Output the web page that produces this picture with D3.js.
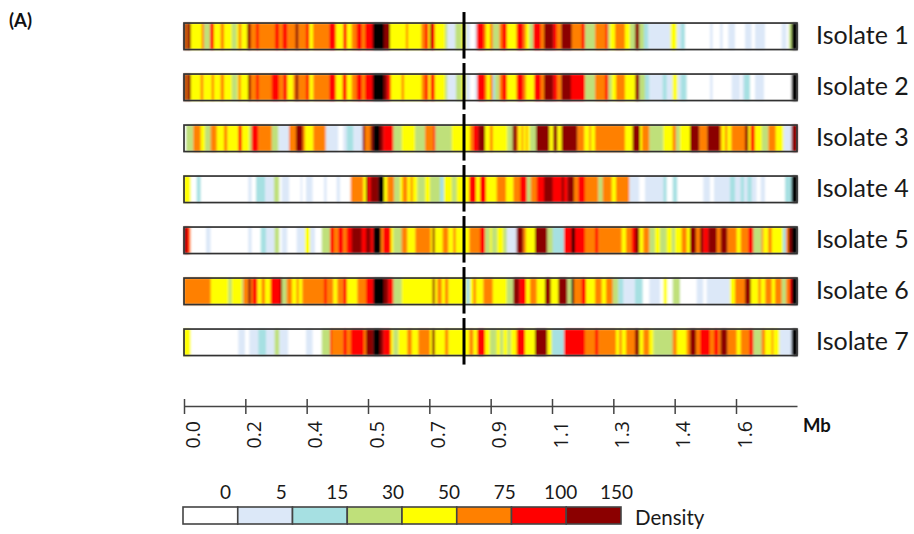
<!DOCTYPE html>
<html>
<head>
<meta charset="utf-8">
<script src="https://cdn.jsdelivr.net/npm/d3@7"></script>
<style>
  html, body { margin: 0; background: #fff; }
  svg { display: block; }
</style>
</head>
<body>
<svg id="chart" width="914" height="534"></svg>
<script>
// each isolate: [start in kb, density] runs, run lasts until next start
const isolate1 = [[0,150],[6,75],[10,150],[20,50],[53,75],[60,30],[78,100],[90,50],[110,75],[120,50],[143,30],[158,50],[164,75],[172,50],[190,150],[200,75],[216,100],[224,75],[273,100],[285,75],[296,100],[310,75],[335,150],[343,75],[366,100],[376,50],[387,75],[436,100],[455,50],[478,100],[488,50],[503,75],[518,100],[533,75],[543,100],[566,200],[600,150],[618,50],[666,75],[672,50],[712,75],[723,100],[733,50],[738,150],[744,100],[752,50],[783,30],[790,5],[814,30],[833,50],[845,5],[858,0],[873,5],[878,100],[900,75],[906,50],[918,75],[926,30],[946,75],[954,100],[968,50],[998,100],[1018,75],[1026,50],[1036,30],[1048,100],[1070,75],[1080,150],[1108,100],[1118,75],[1132,150],[1163,75],[1193,100],[1203,30],[1233,75],[1265,100],[1272,30],[1278,50],[1293,75],[1323,50],[1338,30],[1353,150],[1366,30],[1380,15],[1393,5],[1460,50],[1478,5],[1490,15],[1503,0],[1578,5],[1586,0],[1608,5],[1616,0],[1633,5],[1653,0],[1683,5],[1703,0],[1713,5],[1743,0],[1793,5],[1808,0],[1815,30],[1823,200]]
const isolate2 = [[0,150],[6,75],[10,150],[20,50],[50,75],[58,50],[83,75],[90,50],[110,75],[120,50],[143,30],[160,50],[163,75],[170,50],[192,150],[200,75],[216,100],[224,75],[263,100],[285,75],[298,100],[310,50],[328,75],[335,150],[343,75],[366,100],[376,50],[388,75],[436,100],[455,50],[476,100],[488,50],[503,75],[518,100],[533,75],[543,100],[566,200],[600,150],[610,100],[620,50],[653,75],[660,50],[713,75],[723,100],[733,50],[740,100],[752,50],[783,30],[790,5],[816,30],[833,50],[845,5],[858,0],[873,5],[880,100],[903,75],[908,50],[918,75],[926,15],[933,30],[946,75],[954,100],[968,50],[998,100],[1018,75],[1026,50],[1051,100],[1070,75],[1080,150],[1108,100],[1120,75],[1132,150],[1161,100],[1203,30],[1233,75],[1263,100],[1273,30],[1283,50],[1296,75],[1323,50],[1354,150],[1366,30],[1383,15],[1396,5],[1436,15],[1448,5],[1466,50],[1480,5],[1490,15],[1508,0],[1578,5],[1586,0],[1643,5],[1668,0],[1673,5],[1680,15],[1698,0],[1713,5],[1740,0],[1823,200]]
const isolate3 = [[0,0],[6,30],[28,75],[50,50],[63,30],[80,75],[98,50],[120,75],[130,50],[163,100],[173,50],[196,30],[203,100],[223,75],[263,30],[283,5],[315,75],[336,150],[356,75],[363,50],[388,75],[425,5],[463,0],[478,5],[488,15],[508,5],[536,150],[543,75],[560,150],[568,200],[588,150],[598,100],[628,30],[653,50],[693,30],[723,75],[748,100],[754,30],[803,50],[858,75],[868,100],[883,150],[903,50],[918,75],[926,50],[970,30],[986,150],[998,75],[1003,50],[1013,75],[1018,50],[1026,75],[1030,50],[1038,30],[1056,150],[1096,50],[1108,150],[1120,50],[1133,150],[1180,75],[1201,50],[1216,75],[1221,50],[1233,75],[1323,50],[1346,150],[1368,50],[1374,75],[1396,30],[1438,50],[1466,75],[1476,30],[1488,50],[1518,150],[1546,75],[1570,150],[1608,75],[1613,50],[1623,75],[1630,50],[1642,75],[1683,150],[1693,50],[1700,100],[1712,50],[1733,30],[1753,75],[1775,50],[1798,5],[1823,150]]
const isolate4 = [[0,50],[20,0],[38,15],[50,0],[193,5],[203,0],[216,15],[243,5],[270,30],[286,0],[293,5],[316,0],[350,5],[355,0],[366,5],[386,0],[420,5],[428,0],[458,5],[468,0],[500,75],[538,50],[546,150],[553,100],[560,150],[583,200],[600,50],[610,75],[630,30],[648,50],[656,75],[670,50],[680,75],[686,50],[700,30],[723,50],[738,30],[768,15],[780,50],[803,30],[818,50],[856,100],[876,50],[888,100],[906,50],[938,75],[966,50],[988,75],[1008,100],[1028,30],[1040,75],[1058,100],[1080,150],[1106,100],[1133,150],[1140,100],[1150,150],[1170,75],[1183,100],[1203,75],[1243,30],[1256,75],[1283,50],[1296,75],[1336,5],[1366,0],[1383,5],[1438,15],[1448,0],[1466,15],[1480,0],[1558,5],[1578,0],[1590,5],[1638,15],[1653,5],[1670,15],[1680,5],[1690,15],[1703,5],[1718,0],[1730,5],[1743,0],[1803,15],[1823,200]]
const isolate5 = [[0,150],[8,100],[16,75],[20,0],[66,5],[80,0],[193,5],[203,0],[230,15],[246,5],[272,30],[286,0],[293,5],[310,0],[338,5],[363,50],[378,5],[393,0],[413,30],[438,100],[450,75],[463,100],[478,75],[488,100],[503,150],[533,100],[546,150],[560,100],[568,200],[590,75],[598,100],[620,50],[628,30],[653,75],[670,50],[694,75],[740,50],[746,150],[752,50],[776,75],[793,50],[808,75],[815,50],[856,75],[888,100],[903,30],[918,50],[923,30],[940,50],[958,30],[968,5],[998,150],[1018,75],[1026,50],[1053,150],[1090,30],[1106,15],[1140,100],[1163,200],[1173,100],[1203,75],[1233,100],[1243,75],[1313,50],[1326,75],[1343,100],[1353,150],[1366,50],[1378,75],[1396,30],[1413,50],[1428,30],[1448,50],[1463,30],[1473,50],[1493,75],[1508,50],[1518,150],[1536,75],[1548,150],[1558,100],[1573,150],[1598,75],[1610,150],[1630,75],[1658,50],[1670,75],[1693,100],[1708,30],[1733,75],[1738,50],[1753,75],[1763,50],[1796,15],[1806,75],[1813,150],[1823,200]]
const isolate6 = [[0,75],[80,50],[133,30],[143,50],[173,30],[178,75],[193,150],[200,75],[206,100],[220,50],[233,75],[243,50],[260,100],[288,150],[294,30],[308,75],[324,50],[338,75],[344,50],[355,75],[420,100],[428,75],[448,50],[460,75],[478,100],[488,50],[520,75],[546,100],[568,200],[600,150],[613,100],[628,30],[653,50],[746,150],[752,50],[760,75],[773,50],[783,75],[793,50],[846,15],[858,50],[868,75],[876,50],[898,75],[926,50],[968,30],[988,150],[1006,100],[1026,50],[1038,75],[1058,50],[1083,150],[1100,50],[1123,150],[1150,30],[1163,200],[1170,75],[1193,100],[1206,50],[1233,75],[1253,50],[1266,75],[1286,30],[1303,15],[1318,5],[1353,15],[1376,0],[1396,5],[1428,0],[1438,50],[1450,0],[1466,30],[1488,0],[1538,5],[1558,0],[1568,5],[1638,50],[1653,75],[1683,150],[1700,50],[1723,75],[1730,50],[1744,75],[1763,50],[1773,75],[1793,30],[1806,75],[1816,100],[1823,200]]
const isolate7 = [[0,50],[20,0],[163,5],[183,0],[196,5],[223,15],[246,5],[272,30],[286,5],[313,0],[366,5],[386,0],[413,30],[438,100],[443,75],[478,100],[488,75],[500,100],[540,75],[546,150],[568,200],[588,150],[598,100],[620,50],[628,30],[643,50],[670,75],[683,50],[703,75],[738,50],[744,150],[752,50],[783,75],[793,50],[856,75],[868,50],[880,100],[903,50],[918,30],[938,50],[948,30],[958,50],[970,30],[980,50],[998,100],[1023,50],[1053,150],[1090,50],[1103,15],[1140,100],[1203,75],[1233,100],[1243,75],[1296,50],[1306,75],[1313,50],[1326,75],[1353,150],[1366,50],[1378,75],[1396,50],[1408,30],[1466,75],[1478,50],[1508,75],[1518,150],[1536,75],[1548,100],[1578,75],[1590,100],[1603,75],[1610,150],[1630,75],[1658,50],[1670,75],[1696,100],[1708,30],[1733,75],[1743,50],[1763,75],[1768,50],[1786,5],[1823,200]]

const isolates = ["Isolate 1", "Isolate 2", "Isolate 3", "Isolate 4", "Isolate 5", "Isolate 6", "Isolate 7"]
const runs = [isolate1, isolate2, isolate3, isolate4, isolate5, isolate6, isolate7]

const GENOME_END = 1839
const CENTROMERE = 840
const tickKb = [0, 184, 368, 552, 736, 920, 1104, 1288, 1472, 1656]
const tickLabels = ["0.0", "0.2", "0.4", "0.5", "0.7", "0.9", "1.1", "1.3", "1.4", "1.6"]

const legendLabels = ["0", "5", "15", "30", "50", "75", "100", "150"]
const densityBreaks = [5, 15, 30, 50, 75, 100, 150, 200]
const densityColors = ["#ffffff", "#dce8f8", "#a6e0e2", "#bfe07a", "#ffff00", "#ff8000", "#ff0000", "#8b0000", "#000000"]

const svg = d3.select("#chart")
const defs = svg.append("defs")
const addBlur = (id, amount) => {
  defs.append("filter").attr("id", id)
      .attr("x", "-2%").attr("y", "-15%").attr("width", "104%").attr("height", "130%")
    .append("feGaussianBlur").attr("stdDeviation", amount)
}
addBlur("soft", 0.95)
addBlur("edge", 0.45)

const x = d3.scaleLinear().domain([0, GENOME_END]).range([184, 797])
const y = d3.scaleBand().domain(isolates).range([10.8, 367.8]).paddingInner(0.48).paddingOuter(0.24)
const color = d3.scaleThreshold().domain(densityBreaks).range(densityColors)

const FONT = "Lato, 'Open Sans', sans-serif"

// strips
const rows = svg.selectAll("g.isolate")
  .data(isolates)
  .enter().append("g")
    .attr("class", "isolate")
    .attr("transform", d => "translate(0," + y(d) + ")")

rows.append("g").attr("filter", "url(#soft)")
  .selectAll("rect.run")
  .data((d, i) => runs[i].map((r, j) => ({
      start: r[0],
      end: j + 1 < runs[i].length ? runs[i][j + 1][0] : GENOME_END,
      density: r[1]
  })))
  .enter().append("rect")
    .attr("class", "run")
    .attr("x", d => x(d.start))
    .attr("width", d => x(d.end) - x(d.start) + 0.3)
    .attr("y", 0)
    .attr("height", y.bandwidth())
    .attr("fill", d => color(d.density))

rows.append("rect")
    .attr("filter", "url(#edge)")
    .attr("x", x(0))
    .attr("width", x(GENOME_END) - x(0))
    .attr("height", y.bandwidth())
    .attr("fill", "none")
    .attr("stroke", "#333")
    .attr("stroke-width", 1.7)

// centromere marks
rows.append("line")
    .attr("x1", x(CENTROMERE)).attr("x2", x(CENTROMERE))
    .attr("y1", -11).attr("y2", y.bandwidth() + 9)
    .attr("stroke", "#000")
    .attr("stroke-width", 3)

rows.append("text")
    .attr("x", 816)
    .attr("y", y.bandwidth() / 2 + 8)
    .attr("font-family", FONT)
    .attr("font-size", 25)
    .attr("fill", "#1a1a1a")
    .text(d => d)

// position axis
const axis = d3.axisBottom(x)
    .tickValues(tickKb)
    .tickFormat((d, i) => tickLabels[i])
    .tickSizeOuter(0)

const axisG = svg.append("g")
    .attr("transform", "translate(0,406)")
    .call(axis)

axisG.select(".domain").attr("stroke", "#444").attr("stroke-width", 1.5)
axisG.selectAll(".tick line")
    .attr("y1", -7).attr("y2", 8)
    .attr("stroke", "#444").attr("stroke-width", 1.5)
axisG.selectAll(".tick text")
    .attr("transform", "rotate(-90)")
    .attr("x", -15).attr("y", 15).attr("dy", 0)
    .attr("text-anchor", "end")
    .attr("font-family", "'Open Sans', sans-serif")
    .attr("font-size", 19.5)
    .attr("fill", "#1a1a1a")

svg.append("text")
    .attr("x", 803).attr("y", 432)
    .attr("font-family", FONT).attr("font-size", 18.5).attr("font-weight", "bold")
    .attr("fill", "#111")
    .text("Mb")

svg.append("text")
    .attr("x", 9).attr("y", 27)
    .attr("font-family", FONT).attr("font-size", 18.5).attr("font-weight", "bold")
    .attr("fill", "#111")
    .text("(A)")

// legend
const legendX = d3.scaleBand().domain(legendLabels).range([183, 621])
const legendLabelX = d3.scalePoint().domain(legendLabels).range([225.5, 616.5])

svg.selectAll("rect.legend")
  .data(legendLabels)
  .enter().append("rect")
    .attr("class", "legend")
    .attr("x", d => legendX(d))
    .attr("y", 507)
    .attr("width", legendX.bandwidth())
    .attr("height", 17)
    .attr("fill", (d, i) => densityColors[i])
    .attr("stroke", "#444")
    .attr("stroke-width", 1.6)

svg.selectAll("text.legend")
  .data(legendLabels)
  .enter().append("text")
    .attr("class", "legend")
    .attr("x", d => legendLabelX(d))
    .attr("y", 499)
    .attr("text-anchor", "middle")
    .attr("font-family", FONT).attr("font-size", 19)
    .attr("fill", "#1a1a1a")
    .text(d => d)

svg.append("text")
    .attr("x", 635).attr("y", 525)
    .attr("font-family", FONT).attr("font-size", 20.5)
    .attr("fill", "#1a1a1a")
    .text("Density")
</script>
</body>
</html>
